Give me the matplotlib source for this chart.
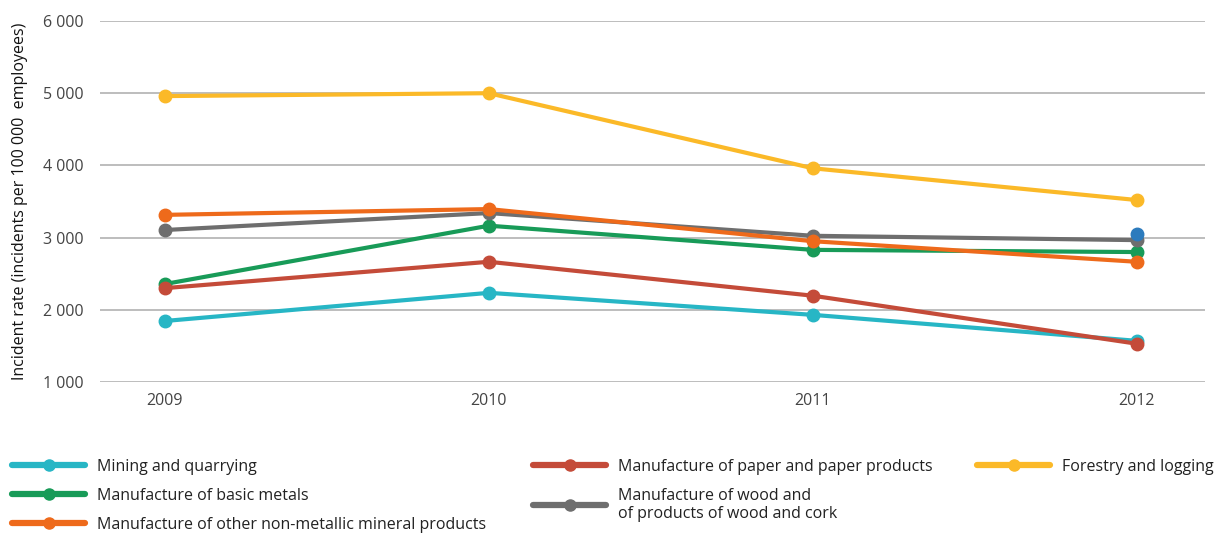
import numpy as np
import matplotlib.pyplot as plt
from matplotlib.lines import Line2D

# Dados
anos = [2009, 2010, 2011, 2012]
mining = [1845, 2235, 1930, 1570]
basic_metals = [2357, 3165, 2830, 2800]
non_metallic = [3315, 3395, 2950, 2665]
paper = [2300, 2665, 2195, 1530]
wood = [3105, 3340, 3025, 2965]
forestry = [4960, 5000, 3960, 3520]
ponto_extra_ano = [2012]
ponto_extra_valor = [3050]

yticks = [1000, 2000, 3000, 4000, 5000, 6000]
ytick_labels = ['1 000', '2 000', '3 000', '4 000', '5 000', '6 000']

plt.rcParams['font.family'] = ['Open Sans', 'DejaVu Sans']

cores = {
    'mining': '#27b6c5',
    'metals': '#189b58',
    'nonmet': '#ee6a1b',
    'paper': '#c44b39',
    'wood': '#6e6e6e',
    'forest': '#fbb928',
    'extra': '#2c7bbd',
}

fig = plt.figure(figsize=(12.24, 5.6), dpi=100)
ax = fig.add_axes([100 / 1224, 1 - 382 / 560, 1105 / 1224, 361 / 560])

lw = 3.0
ms = 9

series = [
    (mining, cores['mining'], 'Mining and quarrying'),
    (basic_metals, cores['metals'], 'Manufacture of basic metals'),
    (paper, cores['paper'], 'Manufacture of paper and paper products'),
    (wood, cores['wood'], 'Manufacture of wood and\nof products of wood and cork'),
    (non_metallic, cores['nonmet'], 'Manufacture of other non-metallic mineral products'),
    (forestry, cores['forest'], 'Forestry and logging'),
]

handles = {}
for valores, cor, nome in series:
    ax.plot(anos, valores, color=cor, lw=lw, marker='o', ms=ms, clip_on=False,
            solid_capstyle='round')
    handles[nome] = Line2D([0], [0], color=cor, lw=4.5, marker='o', ms=8,
                           markevery=[1], solid_capstyle='round')

ax.plot(ponto_extra_ano, ponto_extra_valor, 'o', color=cores['extra'], ms=ms,
        clip_on=False, zorder=5)

ax.set_ylim(1000, 6000)
ax.set_xlim(2008.8, 2012.21)
ax.set_yticks(yticks)
ax.set_yticklabels(ytick_labels)
ax.set_xticks(anos)
ax.set_xticklabels([str(a) for a in anos])
ax.tick_params(length=0, labelsize=11.5, labelcolor='#444444', pad=12)
ax.tick_params(axis='x', pad=8)
ax.grid(axis='y', color='#b8b8b8', lw=1.3)
ax.set_axisbelow(True)
for s in ax.spines.values():
    s.set_visible(False)

fig.text(20 / 1224, 1 - 201 / 560, 'Incident rate (incidents per 100 000  employees)',
         rotation=90, ha='center', va='center', fontsize=11.5, color='#111111',
         fontweight='medium')

# Legenda em três colunas
def legenda(nomes, x):
    leg = fig.legend([handles[n] for n in nomes], nomes, loc='upper left',
                     bbox_to_anchor=(x / 1224, 1 - 459 / 560), frameon=False,
                     fontsize=11.5, handlelength=4.6, handletextpad=0.75,
                     labelspacing=0.8, borderpad=0, borderaxespad=0,
                     labelcolor='#222222')
    return leg

legenda(['Mining and quarrying', 'Manufacture of basic metals',
         'Manufacture of other non-metallic mineral products'], 12)
legenda(['Manufacture of paper and paper products',
         'Manufacture of wood and\nof products of wood and cork'], 533)
legenda(['Forestry and logging'], 977)

plt.savefig('out.png', dpi=100)
